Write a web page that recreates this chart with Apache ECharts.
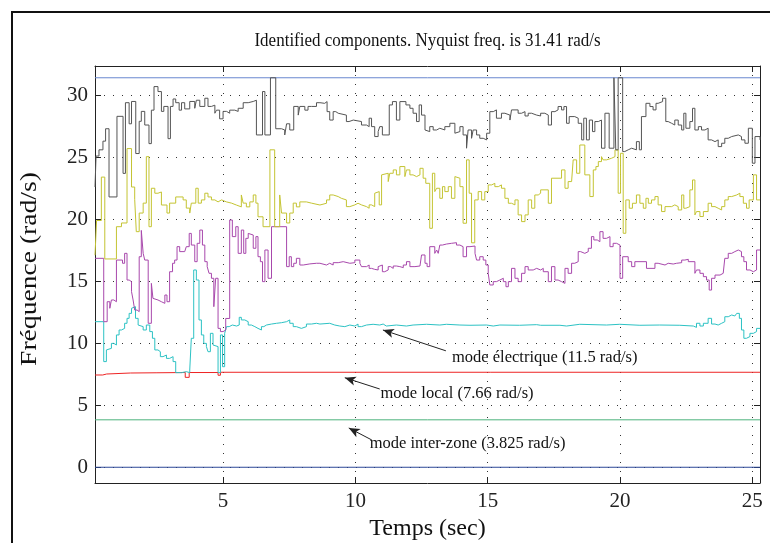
<!DOCTYPE html>
<html><head><meta charset="utf-8">
<script src="https://cdn.jsdelivr.net/npm/echarts@6/dist/echarts.min.js"></script>
<style>html,body{margin:0;padding:0;background:#fff}#c{width:770px;height:543px}</style>
</head><body><div id="c"></div>
<script>
// ---- data ----
const titleText = 'Identified components. Nyquist freq. is 31.41 rad/s';
const xName = 'Temps (sec)';
const yName = 'Fréquence (rad/s)';
const xTicks = [5, 10, 15, 20, 25];
const yTicks = [0, 5, 10, 15, 20, 25, 30];
const tStart = 0.16, tEnd = 25.29;
const nyquist = 31.41;
const modeLocal = 7.66;
const modeInterZone = 3.825;
const zeroLevel = 0;

const grayData = [[0.16,22.6],[0.2,25.1],[0.31,25.6],[0.46,26.3],[0.56,27.3],[0.69,21.8],[0.99,28.3],[1.22,23.7],[1.31,29.4],[1.45,27.7],[1.54,29.5],[1.7,25.3],[1.83,27.9],[1.91,28.7],[2.04,27.6],[2.2,26.1],[2.29,28.8],[2.39,30.7],[2.54,30.3],[2.67,28.7],[2.76,29.1],[2.92,26.5],[3.01,29.1],[3.11,29.7],[3.21,29.4],[3.34,28.8],[3.43,29.4],[3.55,28.9],[3.74,29.5],[3.93,28.95],[3.99,29.6],[4.12,29.1],[4.31,29.76],[4.43,29.1],[4.56,29.2],[4.69,28.55],[4.75,28.8],[4.87,28.1],[5.0,28.7],[5.13,28.55],[5.25,28.8],[5.44,28.7],[5.57,28.95],[5.76,29.4],[5.95,29.5],[6.14,29.6],[6.26,26.8],[6.49,30.3],[6.58,26.8],[6.79,31.41],[6.99,27.3],[7.21,27.2],[7.33,26.8],[7.4,27.7],[7.52,27.2],[7.67,29.1],[7.84,28.4],[7.9,29.1],[8.09,28.8],[8.21,29.1],[8.34,29.1],[8.53,29.4],
[8.66,29.35],[8.84,29.49],[8.93,28.68],[9.03,28.0],[9.16,28.68],[9.26,28.55],[9.35,28.4],[9.66,27.88],[9.76,28.0],[9.92,27.88],[10.23,27.6],[10.42,27.47],[10.52,28.15],[10.61,27.47],[10.73,26.67],[10.86,27.07],[10.92,27.47],[11.02,26.8],[11.28,29.22],[11.4,29.49],[11.55,28.0],[11.68,29.49],[11.91,29.22],[12.06,28.95],[12.18,28.55],[12.31,27.88],[12.41,29.22],[12.5,28.4],[12.63,27.2],[12.69,27.07],[12.81,27.47],[12.94,27.2],[13.07,27.34],[13.19,27.2],[13.38,27.47],[13.57,27.74],[13.76,26.94],[13.82,27.07],[13.95,27.47],[14.07,26.8],[14.2,25.73],[14.26,27.2],[14.39,26.53],[14.45,27.2],[14.58,26.8],[14.7,26.53],[14.83,26.4],[14.96,26.94],[15.08,28.68],[15.21,28.82],[15.33,28.15],[15.52,28.55],[15.65,28.4],[15.84,28.0],[15.9,28.82],[16.15,28.55],[16.28,28.68],[16.41,28.33],[16.53,28.55],[16.66,28.4],[16.85,28.33],
[17.0,28.55],[17.16,28.4],[17.29,27.6],[17.41,28.68],[17.54,28.82],[17.66,29.09],[17.79,28.82],[17.88,29.09],[17.98,27.74],[18.08,28.28],[18.29,28.15],[18.42,27.74],[18.55,26.4],[18.63,28.15],[18.73,26.4],[18.84,28.0],[18.96,27.07],[19.05,27.88],[19.18,28.0],[19.3,25.73],[19.43,28.55],[19.59,25.73],[19.77,31.41],[19.84,25.6],[19.93,31.41],[20.1,25.46],[20.18,25.6],[20.31,25.73],[20.44,25.6],[20.62,26.26],[20.73,25.6],[20.81,28.28],[20.98,29.35],[21.13,29.09],[21.25,28.82],[21.36,29.35],[21.44,29.49],[21.61,29.76],[21.73,27.88],[21.82,27.74],[21.95,27.6],[22.07,28.0],[22.2,27.6],[22.33,27.2],[22.41,28.55],[22.49,27.34],[22.64,27.88],[22.74,28.95],[22.83,27.2],[22.96,27.47],[23.08,27.2],[23.21,27.34],[23.33,26.4],[23.46,26.26],[23.59,26.4],[23.71,25.86],[23.84,26.13],[23.96,26.53],[24.09,26.67],[24.22,26.8],[24.47,26.67],[24.59,26.4],[24.72,26.13],[24.85,27.34],[25.0,24.52],[25.1,26.67],[25.29,26.4]];

const yellowData = [[0.16,17.1],[0.22,19.9],[0.4,23.4],[0.53,16.8],[0.97,19.4],[1.16,19.7],[1.37,25.7],[1.54,22.6],[1.66,21.6],[1.72,19.0],[1.83,20.5],[1.98,21.3],[2.1,25.05],[2.2,19.4],[2.29,22.5],[2.42,22.1],[2.54,22.2],[2.67,21.15],[2.88,20.5],[2.98,21.3],[3.21,21.8],[3.49,21.56],[3.61,20.9],[3.74,20.5],[3.8,21.3],[3.97,22.5],[4.06,21.3],[4.18,21.56],[4.31,22.1],[4.43,21.8],[4.56,21.56],[4.69,21.4],[4.81,21.56],[4.94,21.4],[5.13,21.3],[5.32,21.15],[5.5,21.0],[5.69,21.96],[5.76,21.3],[5.88,21.0],[6.01,21.4],[6.14,21.96],[6.24,21.3],[6.32,20.2],[6.51,19.4],[6.77,25.6],[6.95,19.4],[7.14,21.96],[7.21,20.5],[7.4,19.7],[7.52,20.5],[7.65,21.3],[7.77,21.0],[7.9,21.4],[8.15,21.3],[8.34,21.15],
[8.66,21.29],[8.91,21.56],[9.03,21.96],[9.16,21.83],[9.35,21.69],[9.47,21.56],[9.66,21.02],[9.79,21.16],[9.98,21.29],[10.1,21.16],[10.23,21.02],[10.42,20.89],[10.52,21.16],[10.61,21.02],[10.73,22.1],[10.8,22.23],[10.9,21.16],[10.99,23.58],[11.05,23.71],[11.24,23.04],[11.3,23.71],[11.43,23.98],[11.55,23.58],[11.68,24.25],[11.87,23.44],[11.93,23.98],[12.06,23.58],[12.18,23.44],[12.31,23.58],[12.44,24.11],[12.56,23.31],[12.66,22.9],[12.81,19.27],[12.91,23.71],[13.0,22.23],[13.07,22.5],[13.19,21.69],[13.29,22.63],[13.38,22.23],[13.51,22.63],[13.63,21.69],[13.76,23.44],[13.82,23.31],[13.95,22.63],[14.07,19.68],[14.2,24.79],[14.3,22.1],[14.39,18.1],[14.51,21.56],[14.64,22.23],[14.77,21.56],[14.89,22.23],[15.02,22.77],[15.15,22.9],[15.27,22.63],[15.4,22.77],[15.52,22.5],[15.65,21.69],[15.78,21.29],[15.9,21.16],[16.03,21.56],[16.15,20.35],[16.28,19.81],[16.41,20.35],[16.53,21.56],[16.66,20.89],[16.78,21.96],[16.91,22.1],
[17.0,22.37],[17.29,21.29],[17.41,23.31],[17.79,23.98],[17.92,22.5],[18.04,23.04],[18.17,22.9],[18.23,24.79],[18.36,23.71],[18.48,25.99],[18.67,23.58],[18.86,21.83],[18.99,23.98],[19.09,24.25],[19.18,24.65],[19.3,25.05],[19.36,24.79],[19.49,24.92],[19.68,25.05],[19.81,25.59],[19.93,22.1],[20.02,25.32],[20.12,18.87],[20.22,21.56],[20.35,20.89],[20.47,21.29],[20.62,21.96],[20.75,21.29],[20.88,20.89],[20.98,21.69],[21.07,21.29],[21.19,21.56],[21.32,21.83],[21.44,21.16],[21.57,20.62],[21.7,21.02],[21.95,21.16],[22.07,21.02],[22.2,20.75],[22.33,21.96],[22.41,20.89],[22.49,21.02],[22.64,22.37],[22.74,23.17],[22.83,20.35],[22.89,20.62],[23.02,20.22],[23.15,20.62],[23.33,21.29],[23.46,21.02],[23.59,20.89],[23.71,20.75],[23.84,21.02],[23.96,21.56],[24.09,21.83],[24.22,21.96],[24.41,22.1],[24.53,21.83],[24.66,21.29],[24.78,20.89],[24.88,21.56],[25.04,23.58],[25.16,21.56],[25.29,21.56]];

const magentaData = [[0.16,16.85],[0.49,11.74],[0.62,13.35],[0.72,12.82],[0.78,13.49],[0.87,13.35],[0.97,16.71],[1.2,16.45],[1.28,17.25],[1.37,15.1],[1.45,14.97],[1.54,14.16],[1.6,13.49],[1.66,12.68],[1.75,12.55],[1.83,16.98],[1.91,19.1],[1.98,17.25],[2.04,16.71],[2.17,11.61],[2.29,14.83],[2.35,13.62],[2.42,13.49],[2.54,13.35],[2.67,13.22],[2.8,13.89],[2.88,13.35],[2.98,15.77],[3.09,16.45],[3.17,16.71],[3.26,17.79],[3.36,17.39],[3.55,17.52],[3.61,17.79],[3.72,18.86],[3.8,17.92],[3.93,16.58],[4.02,18.06],[4.12,19.13],[4.22,17.92],[4.31,16.58],[4.4,16.18],[4.47,15.64],[4.56,15.24],[4.65,12.95],[4.72,15.24],[4.81,11.2],[4.9,10.94],[5.0,11.07],[5.1,12.0],[5.25,19.94],[5.35,18.6],[5.48,19.4],[5.57,17.25],[5.69,19.13],[5.78,17.25],[5.86,18.46],[5.95,18.86],[6.01,18.73],[6.14,17.66],[6.24,18.6],[6.32,16.98],[6.41,16.58],[6.49,14.97],[6.58,17.52],[6.7,15.24],[6.83,19.4],[7.4,16.18],[7.5,16.98],[7.58,16.18],[7.67,16.45],[7.77,16.85],[7.9,16.31],[8.03,16.4],[8.28,16.45],[8.53,16.45],
[8.66,16.31],[8.91,16.45],[9.03,16.31],[9.16,16.5],[9.35,16.58],[9.54,16.45],[9.79,16.5],[9.98,16.71],[10.17,16.45],[10.23,16.18],[10.42,16.31],[10.52,16.04],[10.61,15.96],[10.73,15.91],[10.86,16.18],[10.92,16.31],[11.02,15.77],[11.11,15.91],[11.24,16.18],[11.33,16.04],[11.43,16.23],[11.55,16.18],[11.68,16.1],[11.81,16.31],[11.93,16.58],[12.06,16.18],[12.25,16.23],[12.44,16.31],[12.5,17.12],[12.63,16.45],[12.71,16.18],[12.81,17.79],[13.0,17.25],[13.07,17.52],[13.13,17.25],[13.19,17.92],[13.29,18.0],[13.44,18.06],[13.63,18.11],[13.82,17.92],[13.95,17.79],[14.07,16.98],[14.2,17.79],[14.33,17.84],[14.52,17.25],[14.58,16.71],[14.7,16.98],[14.83,16.71],[14.93,16.31],[15.02,15.64],[15.08,14.7],[15.21,14.97],[15.33,15.1],[15.46,15.24],[15.59,14.97],[15.69,14.56],[15.78,14.97],[15.9,16.04],[16.03,15.24],[16.15,14.97],[16.28,15.64],[16.41,16.18],[16.53,15.91],[16.72,16.04],[16.85,15.91],
[17.0,16.04],[17.1,15.77],[17.29,14.97],[17.41,16.18],[17.54,15.1],[17.66,14.97],[17.79,14.83],[17.92,16.04],[18.04,15.64],[18.17,16.45],[18.29,16.58],[18.42,17.39],[18.51,17.25],[18.67,17.39],[18.8,17.66],[18.92,18.6],[19.01,18.33],[19.14,18.19],[19.24,19.0],[19.36,18.46],[19.49,18.6],[19.62,17.79],[19.74,18.06],[19.87,17.92],[20.0,15.24],[20.1,16.98],[20.31,16.58],[20.44,16.18],[20.56,16.58],[21.0,16.04],[21.32,16.45],[21.44,16.31],[21.7,16.45],[21.82,16.39],[22.01,16.45],[22.14,16.5],[22.33,16.71],[22.45,16.77],[22.58,16.58],[22.83,15.64],[22.89,15.91],[23.02,15.64],[23.15,15.37],[23.27,15.1],[23.37,14.29],[23.46,15.24],[23.59,15.5],[23.78,15.64],[23.9,15.77],[23.96,16.85],[24.09,17.25],[24.22,17.39],[24.34,17.52],[24.47,17.39],[24.59,16.98],[24.68,16.58],[24.78,15.91],[24.91,15.77],[25.04,15.91],[25.16,17.52],[25.29,17.52]];

const cyanData = [[0.16,11.74],[0.49,8.52],[0.59,9.46],[0.65,9.59],[0.78,9.99],[0.87,9.86],[0.97,10.67],[1.07,11.07],[1.16,11.2],[1.28,11.61],[1.37,12.01],[1.45,12.41],[1.54,12.82],[1.6,12.95],[1.69,12.01],[1.79,11.47],[1.85,11.34],[1.98,11.07],[2.1,11.47],[2.23,10.94],[2.33,10.4],[2.42,9.46],[2.54,9.32],[2.63,8.92],[2.73,9.05],[2.86,8.78],[2.98,8.92],[3.11,8.52],[3.21,7.63],[3.43,7.71],[3.61,7.63],[3.74,7.84],[3.8,10.4],[3.89,15.91],[3.99,15.1],[4.09,11.88],[4.18,10.67],[4.27,9.99],[4.37,9.73],[4.43,9.32],[4.52,10.8],[4.62,9.86],[4.69,9.73],[4.81,7.63],[4.9,10.67],[4.98,8.11],[5.06,10.8],[5.13,11.34],[5.23,11.47],[5.35,11.39],[5.51,11.47],[5.61,12.09],[5.69,11.88],[5.82,11.74],[5.95,11.47],[6.07,11.34],[6.2,11.2],[6.32,11.07],[6.45,11.34],[6.54,11.47],[6.64,11.55],[6.83,11.61],[7.02,11.66],[7.21,11.74],[7.4,11.88],[7.52,11.61],[7.65,11.34],[7.77,11.2],[7.96,11.34],[8.15,11.55],[8.34,11.61],[8.53,11.55],
[8.66,11.61],[9.03,11.47],[9.22,11.39],[9.41,11.34],[9.6,11.47],[9.79,11.39],[9.98,11.55],[10.1,11.34],[10.23,11.47],[10.42,11.53],[10.67,11.47],[10.92,11.55],[11.05,11.39],[11.17,11.47],[11.55,11.39],[11.93,11.47],[12.18,11.53],[12.69,11.47],[13.19,11.53],[13.44,11.47],[13.95,11.45],[14.33,11.47],[14.96,11.39],[15.21,11.47],[15.46,11.45],[16.2,11.5],[16.85,11.45],
[17.0,11.45],[17.73,11.39],[17.98,11.53],[18.48,11.47],[19.49,11.53],[19.99,11.45],[20.75,11.47],[21.5,11.45],[22.26,11.39],[22.77,11.28],[22.89,11.61],[23.02,11.39],[23.15,11.61],[23.33,12.01],[23.46,11.55],[23.59,11.47],[23.71,11.61],[23.84,11.74],[23.96,12.14],[24.09,12.28],[24.22,12.2],[24.34,12.28],[24.41,12.41],[24.51,12.01],[24.59,11.07],[24.68,10.4],[24.78,10.54],[24.91,10.8],[25.04,10.94],[25.16,11.2],[25.29,11.2]];

const redData = [[0.16,7.44],[0.45,7.52],[0.6,7.6],[1.5,7.62],[2.5,7.64],[3.57,7.25],[3.72,7.64],[4.81,7.42],[4.9,7.66],[25.29,7.66]];

const annoTexts = ['mode électrique (11.5 rad/s)', 'mode local (7.66 rad/s)', 'mode inter-zone (3.825 rad/s)'];
// arrow tail / head and text anchor in data coordinates
const annoTails = [[13.42, 9.39], [10.92, 6.31], [10.62, 2.2]];
const annoHeads = [[11.04, 11.07], [9.6, 7.22], [9.75, 3.17]];
const annoTextAt = [[13.65, 8.81], [10.95, 5.91], [10.54, 1.88]];

// ---- chart ----
const serif = '"Liberation Serif","DejaVu Serif",serif';
const chart = echarts.init(document.getElementById('c'), null, {renderer: 'canvas'});
function constLine(v) { return [[tStart, v], [tEnd, v]]; }
function stepSeries(data, color, z) {
  return {type: 'line', step: 'end', data: data, showSymbol: false, symbol: 'none',
    lineStyle: {color: color, width: 1}, z: z || 2, silent: true, clip: true};
}
const option = {
  animation: false,
  backgroundColor: '#fff',
  grid: {left: 95, right: 10, top: 66, bottom: 60, containLabel: false, outerBoundsMode: 'none', show: false},
  xAxis: [{
    type: 'value', min: tStart, max: tEnd, position: 'bottom',
    axisLine: {show: true, onZero: false, lineStyle: {color: '#222', width: 1}},
    axisTick: {show: true, inside: true, length: 6, customValues: xTicks, lineStyle: {color: '#222'}},
    axisLabel: {show: true, customValues: xTicks, margin: 8, color: '#222', fontFamily: serif, fontSize: 21},
    splitLine: {show: true, lineStyle: {color: '#333', width: 1, type: [1, 8]}},
    name: xName, nameLocation: 'middle', nameGap: 33,
    nameTextStyle: {color: '#111', fontFamily: serif, fontSize: 24}
  }, {
    type: 'value', min: tStart, max: tEnd, position: 'top',
    axisLine: {show: true, onZero: false, lineStyle: {color: '#222', width: 1}},
    axisTick: {show: true, inside: true, length: 6, customValues: xTicks, lineStyle: {color: '#222'}},
    axisLabel: {show: false}, splitLine: {show: false}
  }],
  yAxis: [{
    type: 'value', min: -1.27, max: 32.36, position: 'left',
    axisLine: {show: true, onZero: false, lineStyle: {color: '#222', width: 1}},
    axisTick: {show: true, inside: true, length: 6, customValues: yTicks, lineStyle: {color: '#222'}},
    axisLabel: {show: true, customValues: yTicks, margin: 7, color: '#222', fontFamily: serif, fontSize: 21},
    splitLine: {show: true, lineStyle: {color: '#333', width: 1, type: [1, 8]}}
  }, {
    type: 'value', min: -1.27, max: 32.36, position: 'right',
    axisLine: {show: true, onZero: false, lineStyle: {color: '#222', width: 1}},
    axisTick: {show: true, inside: true, length: 6, customValues: yTicks, lineStyle: {color: '#222'}},
    axisLabel: {show: false}, splitLine: {show: false}
  }],
  series: [
    stepSeries(constLine(zeroLevel), '#2c4898', 3),
    stepSeries(constLine(nyquist), '#6a88d0', 3),
    stepSeries(constLine(modeInterZone), '#4cb27c', 3),
    stepSeries(redData, '#ee2424', 3),
    stepSeries(cyanData, '#2cc2c4', 4),
    stepSeries(magentaData, '#a848ac', 4),
    stepSeries(yellowData, '#c4c432', 4),
    stepSeries(grayData, '#555555', 5),
    {
      type: 'line', data: [], silent: true,
      markLine: {
        silent: true, animation: false,
        symbol: ['none', 'arrow'], symbolSize: [7, 11],
        lineStyle: {color: '#222', width: 1, type: 'solid'},
        label: {show: false},
        data: annoTails.map((t, i) => [{coord: t}, {coord: annoHeads[i]}])
      }
    }
  ]
};
chart.setOption(option);

const gfx = [];
gfx.push({type: 'rect', shape: {x: 12, y: 12, width: 900, height: 900},
  style: {fill: 'none', stroke: '#111', lineWidth: 2}, silent: true});
const gl = chart.convertToPixel({gridIndex: 0}, [tStart, 0])[0];
const gr = chart.convertToPixel({gridIndex: 0}, [tEnd, 0])[0];
gfx.push({type: 'text', x: (gl + gr) / 2, y: 41, scaleY: 1.12,
  style: {text: titleText, textAlign: 'center', textVerticalAlign: 'middle', fill: '#111', font: '17px ' + serif}});
// y-axis title (rotated, stretched along its length like the reference)
gfx.push({type: 'text', x: 30, y: 269, rotation: Math.PI / 2, scaleX: 1.15,
  style: {text: yName, textAlign: 'center', textVerticalAlign: 'middle', fill: '#111', font: '24px ' + serif}});
annoTexts.forEach((t, i) => {
  const p = chart.convertToPixel({gridIndex: 0}, annoTextAt[i]);
  gfx.push({type: 'text', x: p[0], y: p[1],
    style: {text: t, textAlign: 'left', textVerticalAlign: 'middle', fill: '#111', font: '16.5px ' + serif}});
});
chart.setOption({graphic: gfx});
</script></body></html>
